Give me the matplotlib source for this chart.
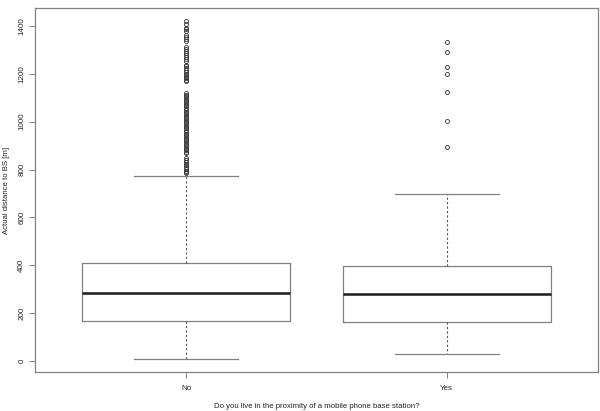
import matplotlib
matplotlib.use("Agg")
import matplotlib.pyplot as plt

plt.rcParams['font.family'] = ['Liberation Sans', 'DejaVu Sans']

categories = ["No", "Yes"]
whisker_low = [11, 30]
q1 = [167, 162]
median = [285, 279]
q3 = [408, 396]
whisker_high = [773, 698]
no_outliers = [1418, 1408, 1392, 1385, 1378, 1360, 1352, 1345, 1338, 1310, 1302,
               1295, 1285, 1276, 1268, 1260, 1252, 1238, 1230, 1222, 1215, 1208,
               1200, 1193, 1186, 1180, 1174, 1168, 1120, 1112, 1105, 1099, 1092,
               1085, 1078, 1071, 1064, 1057, 1050, 1042, 1035, 1028, 1021, 1014,
               1007, 1000, 993, 986, 979, 972, 965, 958, 950, 943, 936, 929, 922,
               915, 908, 901, 894, 887, 880, 873, 869, 848, 840, 832, 825, 818,
               810, 802, 795, 788, 785]
yes_outliers = [1334, 1291, 1229, 1198, 1123, 1004, 893]
outliers = [no_outliers, yes_outliers]
yticks = [0, 200, 400, 600, 800, 1000, 1200, 1400]

fig = plt.figure(figsize=(6.0, 4.11), dpi=100)
ax = fig.add_axes([35/600, 1-372/411, (598-35)/600, (372-8)/411])

stats = []
for i, c in enumerate(categories):
    stats.append(dict(label=c, whislo=whisker_low[i], q1=q1[i], med=median[i],
                      q3=q3[i], whishi=whisker_high[i], fliers=outliers[i]))

frame_col = '#808080'
ax.bxp(stats, positions=[1, 2], widths=0.8, patch_artist=False,
       boxprops=dict(color=frame_col, linewidth=0.9),
       medianprops=dict(color='#1a1a1a', linewidth=1.8, solid_capstyle='butt'),
       whiskerprops=dict(color='#555555', linewidth=0.8, linestyle=(0, (2, 2))),
       capprops=dict(color=frame_col, linewidth=0.9),
       capwidths=0.4,
       flierprops=dict(marker='o', markersize=2.9, markerfacecolor='none',
                       markeredgecolor='#333333', markeredgewidth=0.6, linestyle='none'))

ax.set_xlim(0.42, 2.58)
ax.set_ylim(-45, 1474)
ax.set_yticks(yticks)
ax.set_yticklabels([str(v) for v in yticks], rotation=90, va='center', fontsize=5.8, color='#222222')
ax.set_xticks([1, 2])
ax.set_xticklabels(categories, fontsize=5.8, color='#222222')
ax.tick_params(axis='both', length=4, width=0.7, color=frame_col)
ax.tick_params(axis='y', pad=3)
ax.tick_params(axis='x', pad=5)
for s in ax.spines.values():
    s.set_color(frame_col)
    s.set_linewidth(0.9)

ax.set_ylabel("Actual distance to BS [m]", fontsize=5.6, color='#222222', labelpad=6)
ax.set_xlabel("Do you live in the proximity of a mobile phone base station?", fontsize=5.6,
              color='#222222', labelpad=8)

fig.savefig("out.png", dpi=100)
